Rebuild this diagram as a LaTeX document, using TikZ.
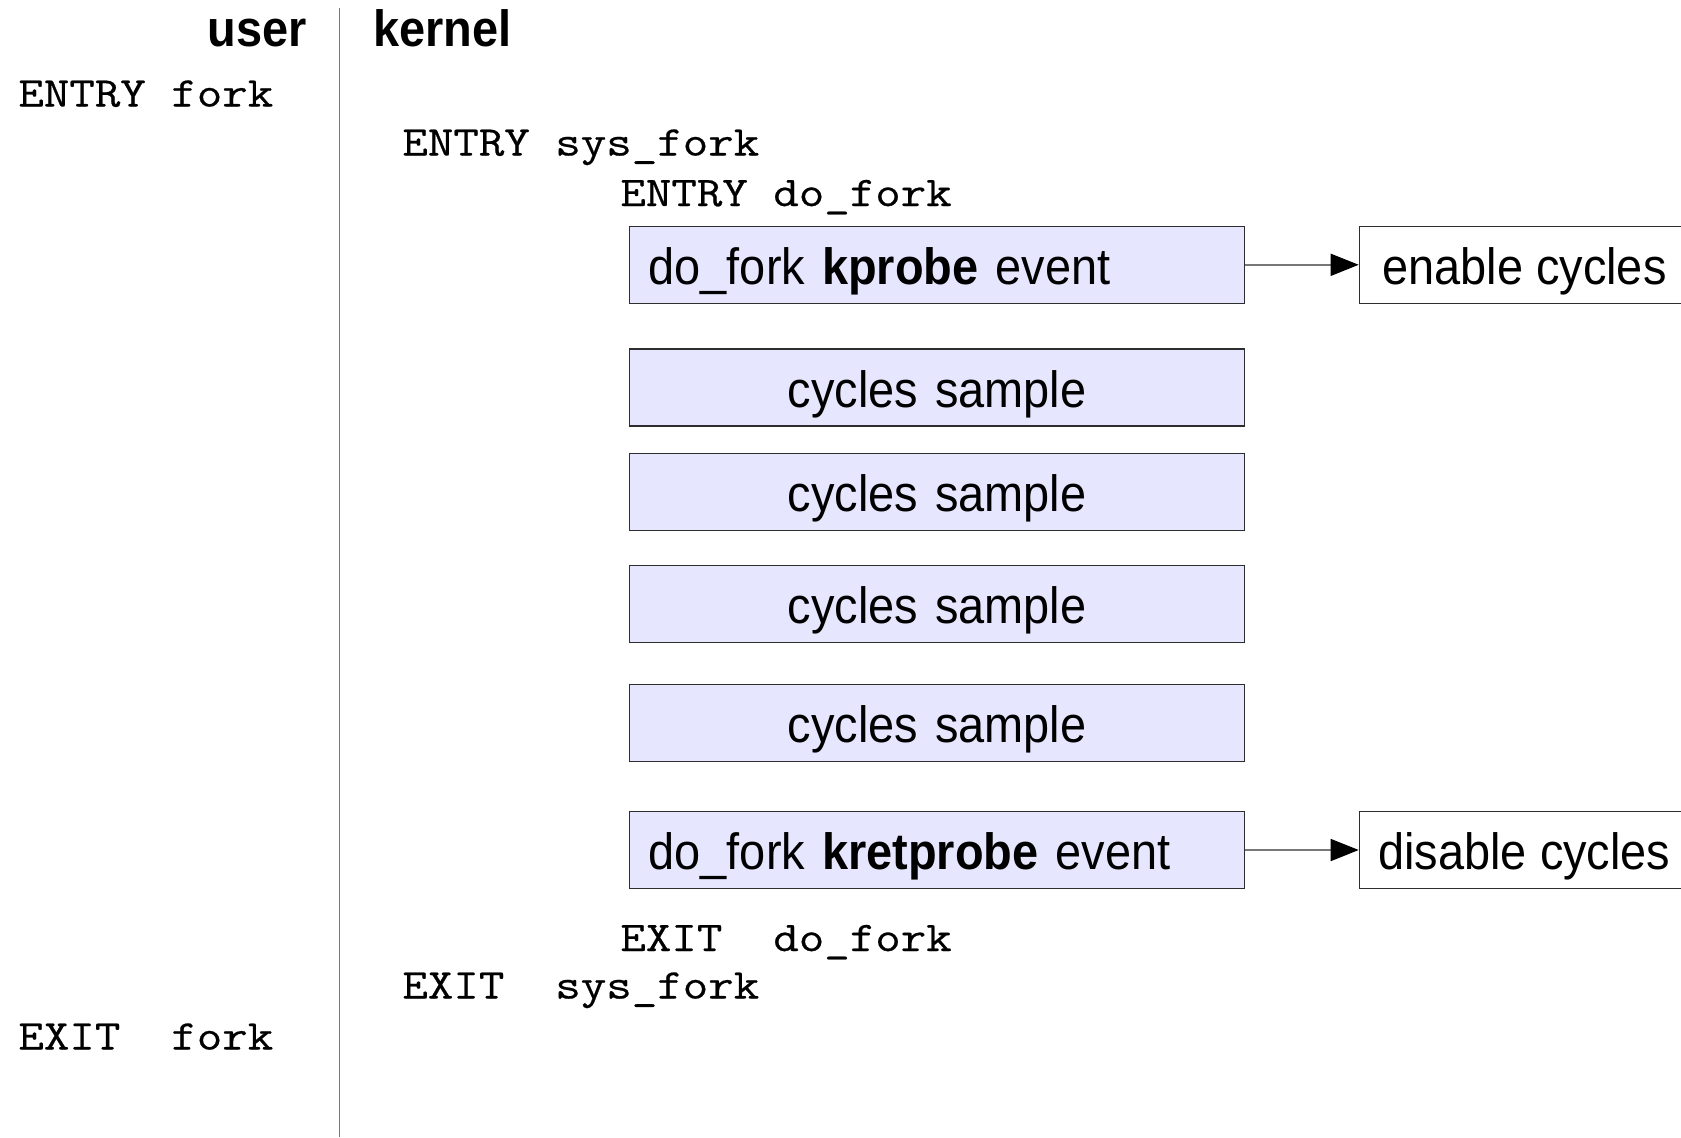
\documentclass[tikz,border=0pt]{standalone}
\usepackage{fontspec}
\setmainfont{Liberation Sans}[FakeStretch=0.92]
\setmonofont{Latin Modern Mono}[FakeStretch=1.17,FakeBold=0.5]
\usetikzlibrary{arrows.meta}

\definecolor{evfill}{RGB}{230,230,255}
\definecolor{evline}{RGB}{45,45,45}
\definecolor{rulegray}{RGB}{120,120,120}

\begin{document}
\begin{tikzpicture}[x=0.5pt,y=-0.5pt,
  sansfont/.style={font=\fontsize{25.5}{30}\selectfont},
  head/.style={font=\fontsize{25.5}{30}\selectfont\bfseries, inner sep=0pt},
  call/.style={font=\fontsize{21.15}{25}\selectfont\ttfamily, anchor=base west, inner sep=0pt},
  boxbase/.style={draw=evline, line width=0.7pt, minimum height=38.5pt,
    inner ysep=0pt, text height=19.5pt, text depth=0pt, sansfont},
  evbox/.style={boxbase, fill=evfill, inner xsep=9.65pt, text width=288.4pt, align=left},
  samplebox/.style={boxbase, fill=evfill, inner xsep=9.65pt, text width=288.4pt, align=center},
  actbox/.style={boxbase, fill=white, inner xsep=0pt, minimum width=165pt},
  rule/.style={draw=rulegray, line width=0.8pt},
  link/.style={draw=rulegray, line width=0.8pt, -{Triangle[length=14pt,width=11pt,color=black]}}
]
\useasboundingbox (0,0) rectangle (1681,1137);
\clip (0,0) rectangle (1681,1137);

% divider between user and kernel space
\coordinate (divtop) at (339.5,8);
\coordinate (divbot) at (339.5,1137);
\draw[rule] (divtop) -- (divbot);

% column headings
\node[head, anchor=base east] (user) at (307.5,46) {user};
\node[head, anchor=base west] (kernel) at (373,46) {kernel};

% call trace
\node[call] (efork)  at (18,106.5)  {ENTRY fork};
\node[call] (esys)   at (402,155.5) {ENTRY sys\_fork};
\node[call] (edo)    at (620,206)   {ENTRY do\_fork};
\node[call] (xdo)    at (620,951)   {EXIT~~do\_fork};
\node[call] (xsys)   at (402,998.5) {EXIT~~sys\_fork};
\node[call] (xfork)  at (18,1049.5) {EXIT~~fork};

% events inside do_fork
\node[evbox]     (kp)  at (937,264.8) {do\_fork \textbf{kprobe} event};
\node[samplebox] (cs1) at (937,387.6) {cycles sample};
\node[samplebox] (cs2) at (937,492)   {cycles sample};
\node[samplebox] (cs3) at (937,604)   {cycles sample};
\node[samplebox] (cs4) at (937,723)   {cycles sample};
\node[evbox]     (kr)  at (937,850)   {do\_fork \textbf{kretprobe} event};

% actions taken on the probe events
\node[actbox] (en)  at (1524.4,264.8) {enable cycles};
\node[actbox] (dis) at (1524.4,850)   {disable cycles};

\draw[link] (kp.east) -- (en.west);
\draw[link] (kr.east) -- (dis.west);
\end{tikzpicture}
\end{document}
